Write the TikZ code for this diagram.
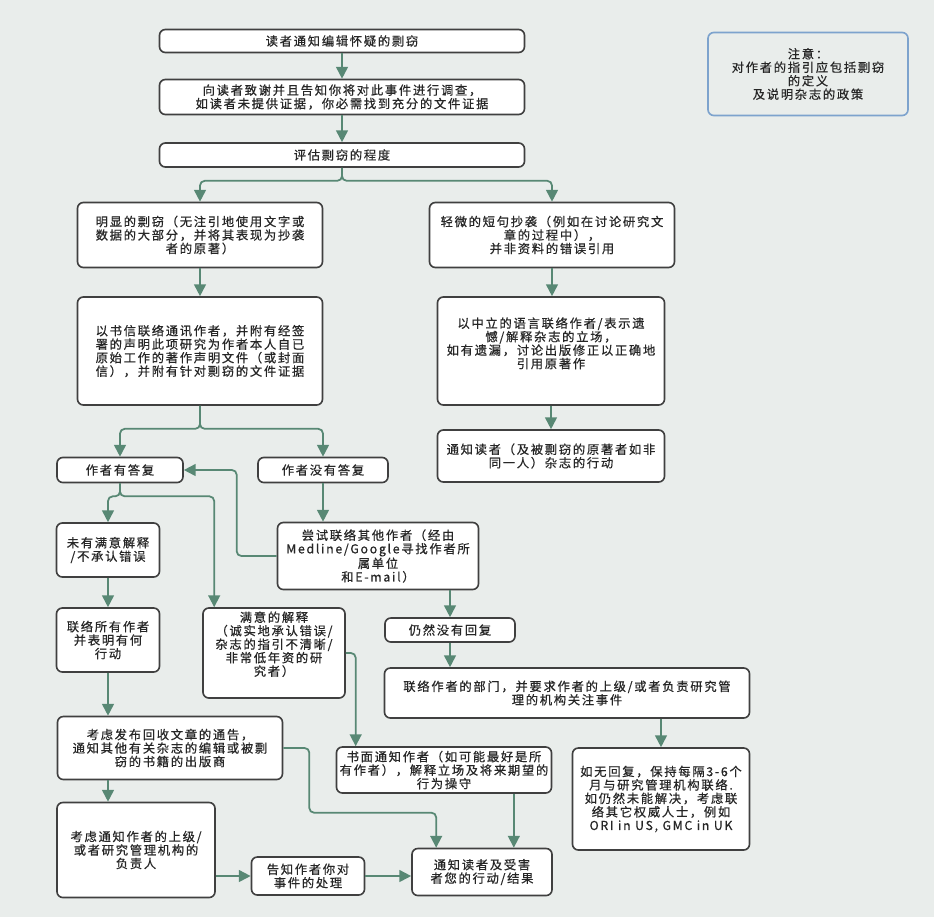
\documentclass[tikz,border=0pt]{standalone}
\usepackage{fontspec}
\setmainfont{Noto Sans CJK SC}[LetterSpace=14, FakeBold=0.6]
\usetikzlibrary{arrows.meta,calc}
\definecolor{flowgreen}{RGB}{88,136,116}
\definecolor{boxgray}{RGB}{64,64,64}
\definecolor{noteblue}{RGB}{125,163,205}
\definecolor{paper}{RGB}{233,237,235}
\definecolor{inkgray}{RGB}{38,38,38}
\tikzset{boxsize/.style 2 args={minimum width=#1*0.03cm, minimum height=#2*0.03cm}}

\begin{document}
\begin{tikzpicture}[x=0.03cm,y=0.03cm]
	\tikzstyle{every node}+=[inner sep=0pt, font=\fontsize{10.5}{11.5}\selectfont, text=inkgray]
	\tikzstyle{box}=[draw=boxgray, line width=1.4pt, fill=white, rounded corners=5pt, align=center]
	\tikzstyle{note}=[box, draw=noteblue, fill=paper]
	\tikzstyle{flow}=[draw=flowgreen, line width=1.5pt, rounded corners=4pt, -{Triangle[length=10pt,width=10pt]}]
	\fill [paper] (0,0) rectangle (934,-917);
	\useasboundingbox (0,0) rectangle (934,-917);
	\node [box, boxsize={365}{23}] (b1) at (342,-41) {读者通知编辑怀疑的剽窃};
	\node [box, boxsize={365}{35}] (b2) at (342,-97) {向读者致谢并且告知你将对此事件进行调查，\\如读者未提供证据，你必需找到充分的文件证据};
	\node [box, boxsize={365}{24}] (b3) at (342,-155) {评估剽窃的程度};
	\node [note, boxsize={200}{83}] (b0) at (808,-74) {注意：\\对作者的指引应包括剽窃\\的定义\\及说明杂志的政策};
	\node [box, boxsize={245}{65}] (b4) at (200,-235) {明显的剽窃（无注引地使用文字或\\数据的大部分，并将其表现为抄袭\\者的原著）};
	\node [box, boxsize={245}{108}] (b5) at (200,-351) {以书信联络通讯作者，并附有经签\\署的声明此项研究为作者本人自已\\原始工作的著作声明文件（或封面\\信），并附有针对剽窃的文件证据};
	\node [box, boxsize={245}{65}] (b6) at (552,-235) {轻微的短句抄袭（例如在讨论研究文\\章的过程中），\\并非资料的错误引用};
	\node [box, boxsize={227}{108}] (b7) at (551,-351) {以中立的语言联络作者/表示遗\\憾/解释杂志的立场，\\如有遗漏，讨论出版修正以正确地\\引用原著作\rule[-14pt]{0pt}{14pt}};
	\node [box, boxsize={227}{52}] (b8) at (551,-456) {通知读者（及被剽窃的原著者如非\\同一人）杂志的行动};
	\node [box, boxsize={126}{25}] (b9) at (120,-470) {作者有答复};
	\node [box, boxsize={130}{25}] (b10) at (323,-470) {作者没有答复};
	\node [box, boxsize={103}{54}] (b11) at (108,-550) {未有满意解释\\/不承认错误};
	\node [box, boxsize={201}{67}] (b12) at (378,-556) {尝试联络其他作者（经由\\Medline/Google寻找作者所\\属单位\\和E-mail）};
	\node [box, boxsize={103}{64}] (b13) at (108,-640) {联络所有作者\\并表明有何\\行动};
	\node [box, boxsize={142}{90}] (b14) at (274,-653) {满意的解释\\（诚实地承认错误/\\杂志的指引不清晰/\\非常低年资的研\\究者）\rule[-16pt]{0pt}{16pt}};
	\node [box, boxsize={130}{24}] (b15) at (450,-630) {仍然没有回复};
	\node [box, boxsize={365}{50}] (b16) at (567,-693) {联络作者的部门，并要求作者的上级/或者负责研究管\\理的机构关注事件};
	\node [box, boxsize={177}{102}] (b17) at (661,-799) {如无回复，保持每隔3-6个\\月与研究管理机构联络.\\如仍然未能解决，考虑联\\络其它权威人士，例如\\ORI in US, GMC in UK};
	\node [box, boxsize={225}{63}] (b18) at (170,-748) {考虑发布回收文章的通告，\\通知其他有关杂志的编辑或被剽\\窃的书籍的出版商};
	\node [box, boxsize={215}{46}] (b19) at (444,-770) {书面通知作者（如可能最好是所\\有作者），解释立场及将来期望的\\行为操守};
	\node [box, boxsize={158}{95}] (b20) at (136,-850) {考虑通知作者的上级/\\或者研究管理机构的\\负责人};
	\node [box, boxsize={113}{38}] (b21) at (308,-876) {告知作者你对\\事件的处理};
	\node [box, boxsize={140}{47}] (b22) at (482,-872) {通知读者及受害\\者您的行动/结果};
	\coordinate (in14) at ($(b14.north west)+(12,0)$);
	\coordinate (in19) at ($(b19.north west)+(20,0)$);
	\coordinate (in22a) at ($(b22.north west)+(25,0)$);
	\coordinate (in22b) at ($(b22.north east)+(-39,0)$);
	\draw [flow] (b1) -- (b2);
	\draw [flow] (b2) -- (b3);
	\draw [flow] (b3.south) -- ++(0,-13) -| (b4.north);
	\draw [flow] (b3.south) -- ++(0,-13) -| (b6.north);
	\draw [flow] (b4) -- (b5);
	\draw [flow] (b6.south) -- (b6.south |- b7.north);
	\draw [flow] (b7.south) -- (b7.south |- b8.north);
	\draw [flow] (b5.south) -- ++(0,-23) -| (b9.north);
	\draw [flow] (b5.south) -- ++(0,-23) -| (b10.north);
	\draw [flow] (b9.south) -- ++(0,-13) -| (b11.north);
	\draw [flow] (b9.south) -- ++(0,-13) -| (in14);
	\draw [flow] (b10.south) -- (b10.south |- b12.north);
	\draw [flow] (b12.west) -- ++(-40,0) |- (b9.east);
	\draw [flow] (b12.south -| b15.north) -- (b15.north);
	\draw [flow] (b15.south) -- (b15.south |- b16.north);
	\draw [flow] (b16.south -| b17.north) -- (b17.north);
	\draw [flow] (b11.south) -- (b11.south |- b13.north);
	\draw [flow] (b13.south) -- (b13.south |- b18.north);
	\draw [flow] (b13.south |- b18.south) -- (b13.south |- b20.north);
	\draw [flow] (b14.east) -| (in19);
	\draw [flow] (b18.east) -- ++(26,0) |- ($(in22a)+(0,35)$) -- (in22a);
	\draw [flow] (in22b |- b19.south) -- (in22b);
	\draw [flow] (b20.east |- b21.west) -- (b21.west);
	\draw [flow] (b21.east) -- (b21.east -| b22.west);
\end{tikzpicture}
\end{document}
